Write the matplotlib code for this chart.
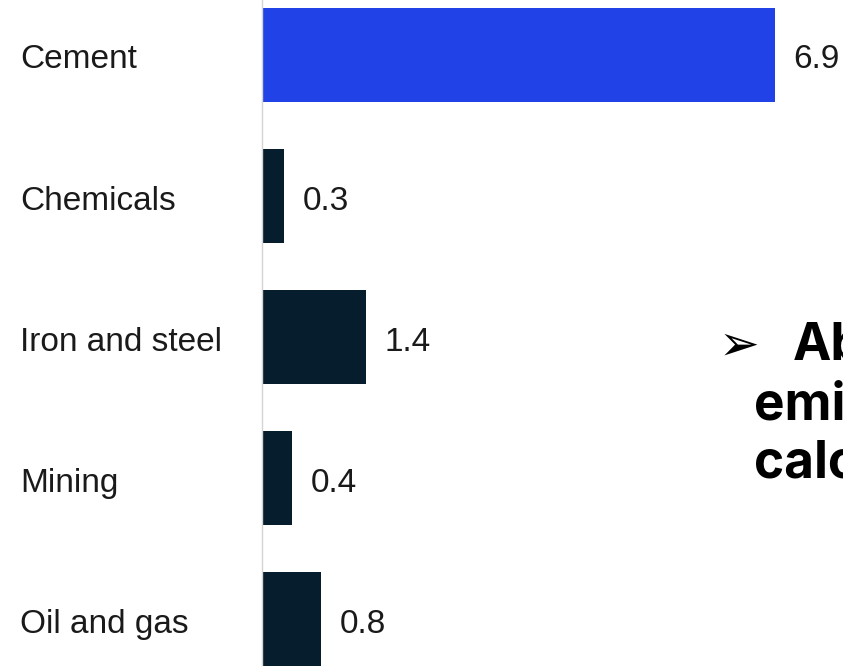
import matplotlib
matplotlib.use("Agg")
import matplotlib.pyplot as plt
from matplotlib.transforms import blended_transform_factory

# data
categories = ["Cement", "Chemicals", "Iron and steel", "Mining", "Oil and gas"]
values = [6.9, 0.3, 1.4, 0.4, 0.8]
value_labels = ["6.9", "0.3", "1.4", "0.4", "0.8"]
highlight = "Cement"

note_lines = ["About", "emissions", "calcination"]

BLUE = "#2142E6"
NAVY = "#061D2D"

W, H = 843, 666
PITCH = 141  # px between bar centres
fig = plt.figure(figsize=(W / 100, H / 100), dpi=100)
ax = fig.add_axes([262 / W, 0, (W - 262) / W, 1])

colors = [BLUE if c == highlight else NAVY for c in categories]
ax.barh(range(len(categories)), values, height=0.66, color=colors, zorder=2)

ax.set_xlim(0, (W - 262) / 74.3)
ax.set_ylim((H - 55) / PITCH, -55 / PITCH)

for s in ["top", "right", "bottom"]:
    ax.spines[s].set_visible(False)
ax.spines["left"].set_color("#d4d4d4")
ax.spines["left"].set_linewidth(1.0)
ax.set_xticks([])
ax.set_yticks([])

lab_font = ["Liberation Sans", "DejaVu Sans"]
base_shift = 13.5 / PITCH  # baseline sits a bit below bar centre
trans = blended_transform_factory(fig.transFigure, ax.transData)
for i, c in enumerate(categories):
    ax.text(20 / W, i + base_shift, c, transform=trans, ha="left", va="baseline",
            fontsize=24, color="#1a1a1a", family=lab_font)

for i, (v, lbl) in enumerate(zip(values, value_labels)):
    ax.annotate(lbl, (v, i + base_shift), xytext=(13.5, 0), textcoords="offset points",
                ha="left", va="baseline", fontsize=24, color="#1a1a1a",
                family=lab_font)

# bullet note on the right, clipped by the figure edge like the original
note_font = ["Inter", "DejaVu Sans"]
fig.text(719 / W, 1 - 360 / H, "\u27a2", fontsize=35, color="black",
         ha="left", va="baseline", family=["DejaVu Sans"])
fig.text(793 / W, 1 - 360 / H, note_lines[0], fontsize=37, fontweight="bold",
         color="black", ha="left", va="baseline", family=note_font)
fig.text(754 / W, 1 - 420 / H, note_lines[1], fontsize=37, fontweight="bold",
         color="black", ha="left", va="baseline", family=note_font)
fig.text(754 / W, 1 - 477 / H, note_lines[2], fontsize=37, fontweight="bold",
         color="black", ha="left", va="baseline", family=note_font)

fig.savefig("out.png", dpi=100)
